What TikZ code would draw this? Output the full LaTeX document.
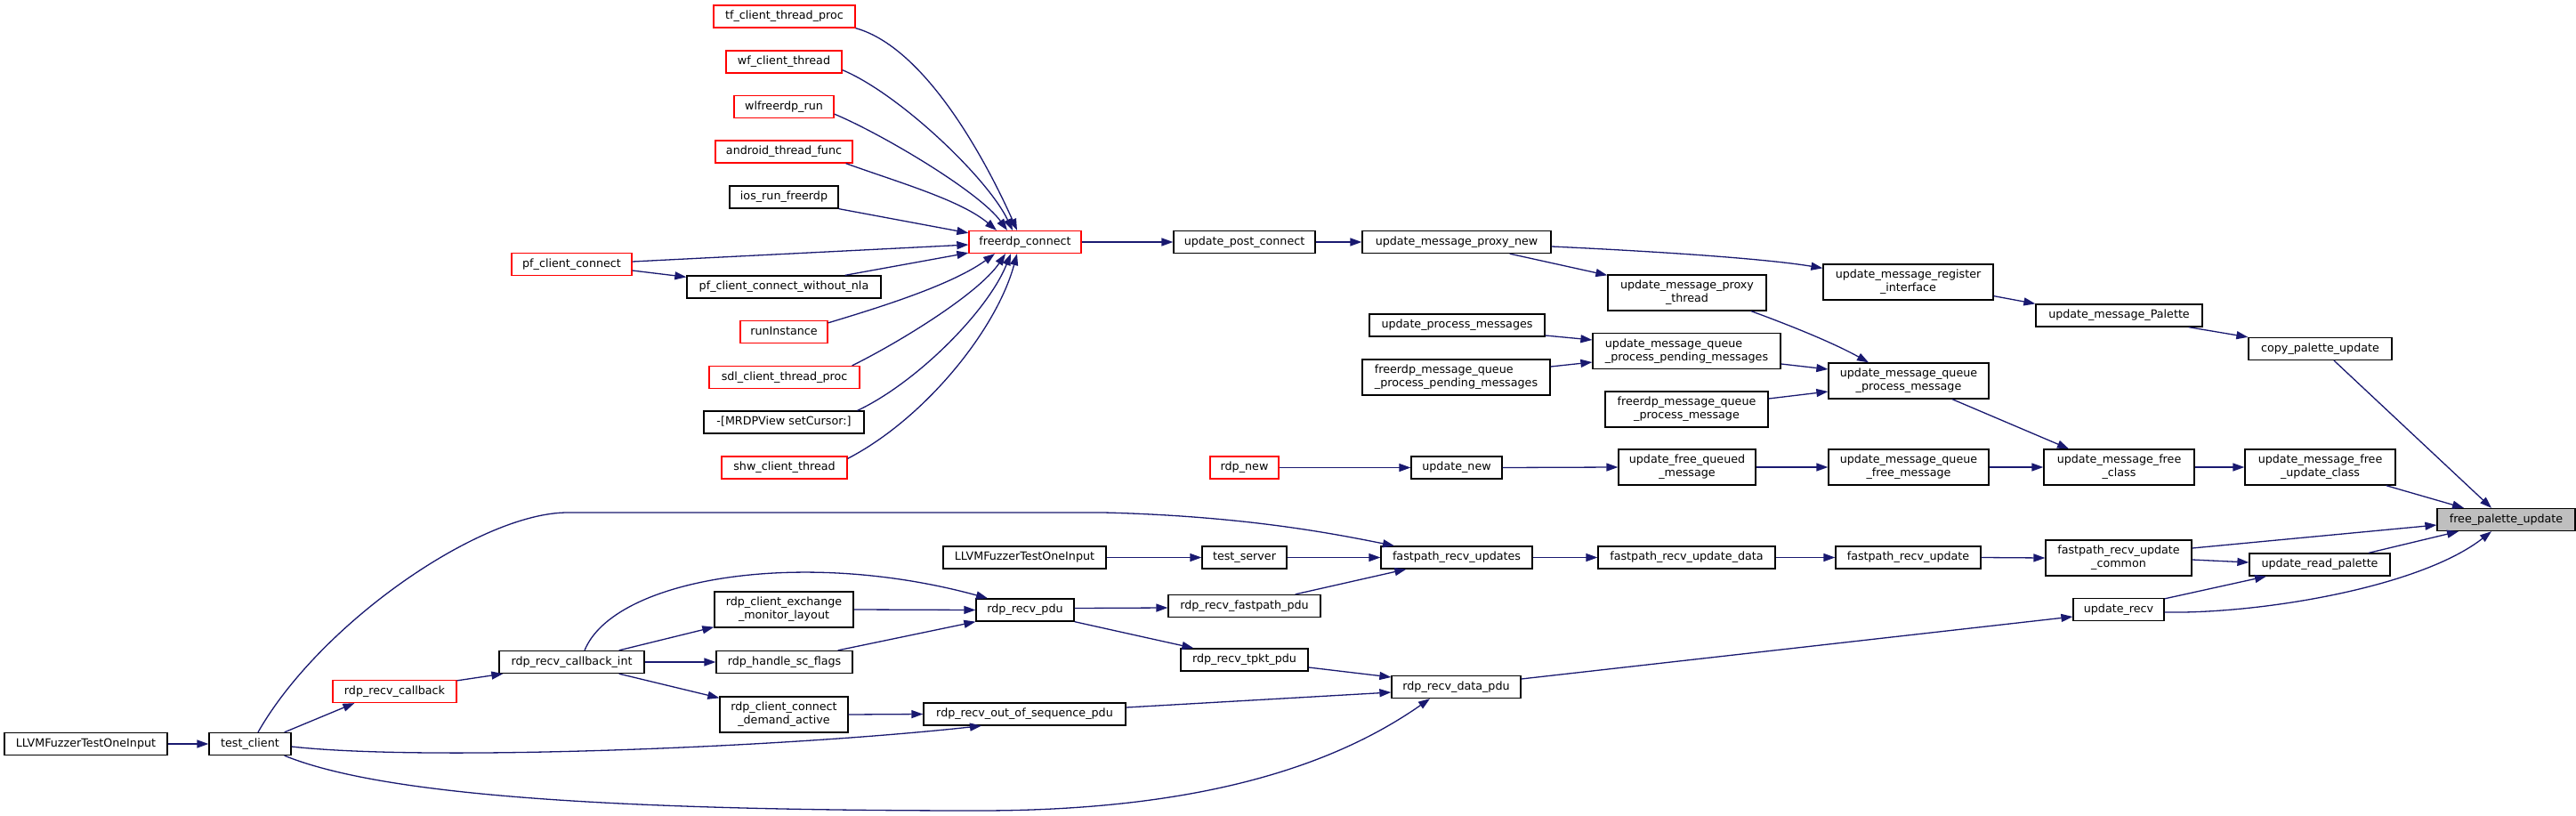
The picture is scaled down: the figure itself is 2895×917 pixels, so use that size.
\documentclass[tikz,border=0pt]{standalone}
\usepackage{fontspec}
\setmainfont{DejaVu Sans}
\usetikzlibrary{arrows.meta}
\definecolor{edgec}{HTML}{191970}
\definecolor{rootfill}{HTML}{BFBFBF}
\begin{document}
\begin{tikzpicture}[x=1pt,y=-1pt,
  box/.style={draw=black, line width=1.3pt, fill=white, inner sep=0pt, minimum height=25pt,
    font=\fontsize{12.7pt}{15pt}\selectfont, text height=9.3pt, text depth=2.7pt},
  redbox/.style={box, draw=red},
  rootbox/.style={box, fill=rootfill},
  boxtwo/.style={draw=black, line width=1.3pt, fill=white, inner sep=0pt, minimum height=40pt,
    font=\fontsize{12.7pt}{15pt}\selectfont, align=center},
  boxtwol/.style={boxtwo, align=left},
  conn/.style={draw=edgec, line width=1.3pt, -{Triangle[length=13pt,width=9pt]}}
]
\fill[white] (0,0) rectangle (2895,917);
\useasboundingbox (0,0) rectangle (2895,917);

% column 1-4 (left)
\node[redbox, minimum width=159pt] (tf) at (881.5,18.5) {tf\_client\_thread\_proc};
\node[redbox, minimum width=130pt] (wf) at (881,69.5) {wf\_client\_thread};
\node[redbox, minimum width=112pt] (wl) at (881,120) {wlfreerdp\_run};
\node[redbox, minimum width=154pt] (android) at (881,170.5) {android\_thread\_func};
\node[box, minimum width=122pt] (ios) at (881,221.5) {ios\_run\_freerdp};
\node[redbox, minimum width=126pt] (fc) at (1152,272) {freerdp\_connect};
\node[redbox, minimum width=135pt] (pfc) at (642.5,297) {pf\_client\_connect};
\node[box, minimum width=218pt] (pfnla) at (881,322.5) {pf\_client\_connect\_without\_nla};
\node[redbox, minimum width=98pt] (run) at (881,373) {runInstance};
\node[redbox, minimum width=169pt] (sdl) at (881.5,424) {sdl\_client\_thread\_proc};
\node[box, minimum width=180pt] (mrdp) at (881,474.5) {-[MRDPView setCursor:]};
\node[redbox, minimum width=141pt] (shw) at (881.5,525.5) {shw\_client\_thread};

\node[box, minimum width=159pt] (upc) at (1398.5,272) {update\_post\_connect};
\node[box, minimum width=212pt] (umpn) at (1637,272) {update\_message\_proxy\_new};
\node[boxtwo, minimum width=191pt] (umri) at (2144.5,317) {update\_message\_register\\\_interface};
\node[boxtwo, minimum width=178pt] (umpt) at (1896,329) {update\_message\_proxy\\\_thread};
\node[box, minimum width=197pt] (upm) at (1637.5,365.5) {update\_process\_messages};
\node[boxtwol, minimum width=211pt] (fmqppm) at (1636.5,424) {freerdp\_message\_queue\\\_process\_pending\_messages};
\node[boxtwol, minimum width=211pt] (umqppm) at (1895.5,394.5) {update\_message\_queue\\\_process\_pending\_messages};
\node[boxtwo, minimum width=180pt] (umqpm) at (2145,428) {update\_message\_queue\\\_process\_message};
\node[boxtwo, minimum width=183pt] (fmqpm) at (1895.5,460) {freerdp\_message\_queue\\\_process\_message};
\node[redbox, minimum width=77pt] (rdpnew) at (1398.5,525.5) {rdp\_new};
\node[box, minimum width=102pt] (unew) at (1637,525.5) {update\_new};
\node[boxtwo, minimum width=154pt] (ufqm) at (1896,525) {update\_free\_queued\\\_message};
\node[boxtwo, minimum width=180pt] (umqfm) at (2145,525) {update\_message\_queue\\\_free\_message};
\node[boxtwo, minimum width=169pt] (umfc) at (2381.5,525) {update\_message\_free\\\_class};
\node[boxtwo, minimum width=169pt] (umfuc) at (2607.5,525) {update\_message\_free\\\_update\_class};
\node[box, minimum width=187pt] (ump) at (2381.5,354.5) {update\_message\_Palette};
\node[box, minimum width=161pt] (cpu) at (2607.5,392) {copy\_palette\_update};
\node[rootbox, minimum width=155pt] (fpu) at (2816.5,584) {free\_palette\_update};
\node[boxtwo, minimum width=164pt] (fruc) at (2381,627) {fastpath\_recv\_update\\\_common};
\node[box, minimum width=158pt] (urp) at (2607,634.5) {update\_read\_palette};
\node[box, minimum width=102pt] (urecv) at (2381,685) {update\_recv};
\node[box, minimum width=163pt] (fru) at (2144.5,626.5) {fastpath\_recv\_update};
\node[box, minimum width=199pt] (frud) at (1895.5,626.5) {fastpath\_recv\_update\_data};
\node[box, minimum width=170pt] (frus) at (1637,626.5) {fastpath\_recv\_updates};
\node[box, minimum width=95pt] (tserver) at (1398.5,626.5) {test\_server};
\node[box, minimum width=183pt] (llvmb) at (1151.5,626.5) {LLVMFuzzerTestOneInput};
\node[box, minimum width=171pt] (rfp) at (1398.5,681) {rdp\_recv\_fastpath\_pdu};
\node[box, minimum width=110pt] (rpdu) at (1152,685.5) {rdp\_recv\_pdu};
\node[box, minimum width=143pt] (rtpkt) at (1398.5,741.5) {rdp\_recv\_tpkt\_pdu};
\node[box, minimum width=145pt] (rdata) at (1636.5,772) {rdp\_recv\_data\_pdu};
\node[box, minimum width=227pt] (roos) at (1151.5,802.5) {rdp\_recv\_out\_of\_sequence\_pdu};
\node[boxtwo, minimum width=156pt] (rcem) at (881,685) {rdp\_client\_exchange\\\_monitor\_layout};
\node[box, minimum width=153pt] (rhsf) at (881.5,744) {rdp\_handle\_sc\_flags};
\node[boxtwo, minimum width=144pt] (rccda) at (881,803) {rdp\_client\_connect\\\_demand\_active};
\node[box, minimum width=163pt] (rrci) at (642.5,744) {rdp\_recv\_callback\_int};
\node[redbox, minimum width=139pt] (rrc) at (443.5,777) {rdp\_recv\_callback};
\node[box, minimum width=92pt] (tclient) at (281,836) {test\_client};
\node[box, minimum width=183pt] (llvma) at (96.5,836) {LLVMFuzzerTestOneInput};

% fan into freerdp_connect
\draw[conn] (tf.south east) .. controls (1045,55) and (1115,196) .. ([xshift=-9pt]fc.north);
\draw[conn] ([yshift=4pt]wf.south east) .. controls (1010,105) and (1110,200) .. ([xshift=-14pt]fc.north);
\draw[conn] ([yshift=5pt]wl.south east) .. controls (990,150) and (1100,215) .. ([xshift=-20pt]fc.north);
\draw[conn] ([xshift=-8pt]android.south east) .. controls (1010,205) and (1080,225) .. ([xshift=-32pt]fc.north);
\draw[conn] (ios.south east) -- ([yshift=-3pt]fc.north west);
\draw[conn] ([yshift=3pt]pfc.east) -- ([yshift=-3pt]fc.west);
\draw[conn] ([yshift=-7pt]pfc.east) -- ([yshift=-2pt]pfnla.north west);
\draw[conn] ([xshift=-41pt]pfnla.north east) -- ([yshift=1pt]fc.south west);
\draw[conn] ([yshift=-3pt]run.north east) .. controls (990,345) and (1070,320) .. ([xshift=-34pt]fc.south);
\draw[conn] ([xshift=-9pt]sdl.north east) .. controls (1010,385) and (1100,330) .. ([xshift=-22pt]fc.south);
\draw[conn] ([xshift=-8pt]mrdp.north east) .. controls (1030,430) and (1110,350) .. ([xshift=-16pt]fc.south);
\draw[conn] ([yshift=-3pt]shw.north east) .. controls (1040,470) and (1120,370) .. ([xshift=-9pt]fc.south);

% upper chain
\draw[conn] (fc.east) -- (upc.west);
\draw[conn] (upc.east) -- (umpn.west);
\draw[conn] ([yshift=-5pt]umpn.east) .. controls (1850,282) and (1980,290) .. ([yshift=-5pt]umri.north west);
\draw[conn] ([xshift=-47pt]umpn.south east) -- ([yshift=-1pt]umpt.north west);
\draw[conn] ([yshift=5pt]umri.south east) -- (ump.north west);
\draw[conn] ([xshift=-16pt]ump.south east) -- (cpu.north west);
\draw[conn] ([xshift=15.5pt]cpu.south) -- ([xshift=-16.5pt]fpu.north);
\draw[conn] ([xshift=72pt]umpt.south) .. controls (2010,365) and (2060,385) .. ([xshift=-45pt]umqpm.north);
\draw[conn] ([yshift=-11.5pt]upm.east) -- ([yshift=12.5pt]umqppm.west);
\draw[conn] ([yshift=12pt]fmqppm.east) -- ([yshift=-12.5pt]umqppm.west);
\draw[conn] ([yshift=-14.5pt]umqppm.east) -- ([yshift=13pt]umqpm.west);
\draw[conn] ([yshift=12pt]fmqpm.east) -- ([yshift=-12pt]umqpm.west);
\draw[conn] ([xshift=49pt]umqpm.south) -- ([xshift=-56.5pt]umfc.north);
\draw[conn] (rdpnew.east) -- (unew.west);
\draw[conn] (unew.east) -- (ufqm.west);
\draw[conn] (ufqm.east) -- (umqfm.west);
\draw[conn] (umqfm.east) -- (umfc.west);
\draw[conn] (umfc.east) -- (umfuc.west);
\draw[conn] ([xshift=-11pt]umfuc.south east) -- ([xshift=-47.5pt]fpu.north);

% fastpath chain
\draw[conn] ([xshift=9pt]tclient.north) .. controls (360,700) and (540,576) .. (638,576) -- (1240,576) .. controls (1400,580) and (1500,600) .. ([xshift=-70pt]frus.north);
\draw[conn] (llvmb.east) -- (tserver.west);
\draw[conn] (tserver.east) -- (frus.west);
\draw[conn] ([xshift=-29pt]rfp.north east) -- ([xshift=29pt]frus.south west);
\draw[conn] (frus.east) -- (frud.west);
\draw[conn] (frud.east) -- (fru.west);
\draw[conn] (fru.east) -- (fruc.west);
\draw[conn] ([yshift=11pt]fruc.east) -- ([yshift=-6pt]fpu.west);
\draw[conn] ([yshift=-2pt]fruc.east) -- ([yshift=2.5pt]urp.west);
\draw[conn] ([xshift=55pt]urp.north) -- ([xshift=-53.5pt]fpu.south);
\draw[conn] ([yshift=-1pt]urecv.north east) -- ([xshift=-60pt]urp.south);
\draw[conn] ([yshift=-3pt]urecv.east) .. controls (2540,690) and (2720,660) .. ([xshift=-16.5pt]fpu.south);
\draw[conn] ([yshift=9pt]rdata.east) -- ([yshift=-8pt]urecv.west);

% rdp recv
\draw[conn] ([yshift=2pt]rpdu.east) -- ([yshift=-2pt]rfp.west);
\draw[conn] (rpdu.south east) -- ([xshift=15pt]rtpkt.north west);
\draw[conn] ([yshift=-8.5pt]rtpkt.east) -- ([yshift=11pt]rdata.west);
\draw[conn] ([yshift=7.5pt]roos.east) -- ([yshift=-6pt]rdata.west);
\draw[conn] ([xshift=-8pt]tclient.south east) .. controls (420,890) and (650,911) .. (1100,911) .. controls (1350,911) and (1500,860) .. ([xshift=-29.5pt]rdata.south);
\draw[conn] ([yshift=-3pt]tclient.east) .. controls (480,856) and (880,840) .. ([xshift=-48.5pt]roos.south);
\draw[conn] (llvma.east) -- (tclient.west);
\draw[conn] ([xshift=-8pt]tclient.north east) -- ([xshift=25pt]rrc.south west);
\draw[conn] ([yshift=-1pt]rrc.north east) -- ([xshift=5pt]rrci.south west);
\draw[conn] ([xshift=-29pt]rrci.north east) -- ([yshift=1pt]rcem.south west);
\draw[conn] (rrci.east) -- (rhsf.west);
\draw[conn] ([xshift=-29pt]rrci.south east) -- ([yshift=-2pt]rccda.north west);
\draw[conn] ([xshift=14.5pt]rrci.north) .. controls (690,650) and (900,615) .. ([xshift=-42pt]rpdu.north);
\draw[conn] (rcem.east) -- (rpdu.west);
\draw[conn] ([xshift=-17pt]rhsf.north east) -- (rpdu.south west);
\draw[conn] (rccda.east) -- (roos.west);
\end{tikzpicture}
\end{document}
